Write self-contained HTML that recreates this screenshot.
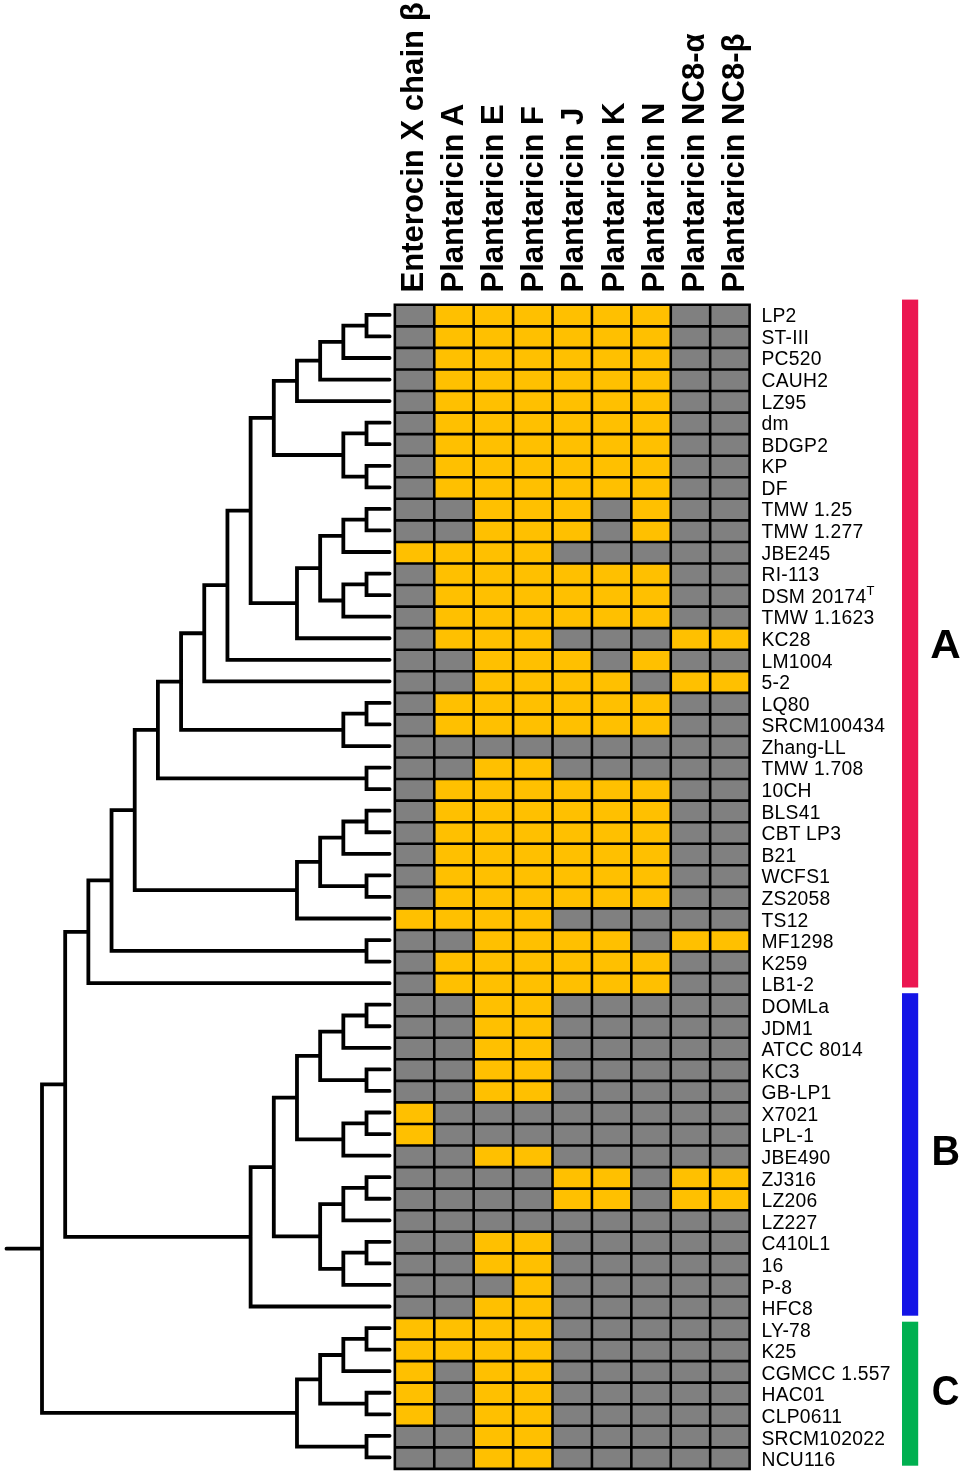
<!DOCTYPE html><html><head><meta charset="utf-8"><style>html,body{margin:0;padding:0;background:#fff;}svg{display:block;will-change:transform;}text{font-family:"Liberation Sans",sans-serif;}</style></head><body><svg width="962" height="1474" viewBox="0 0 962 1474"><rect width="962" height="1474" fill="#fff"/><path d="M389.60 315.58H366.52V337.14H389.60M366.52 326.36H343.34V358.69H389.60M343.34 342.53H320.16V380.25H389.60M320.16 361.39H296.98V401.81H389.60M389.60 423.37H366.52V444.92H389.60M389.60 466.48H366.52V488.04H389.60M366.52 434.14H343.34V477.26H366.52M296.98 381.60H273.80V455.70H343.34M389.60 509.60H366.52V531.15H389.60M366.52 520.37H343.34V552.71H389.60M389.60 574.27H366.52V595.83H389.60M366.52 585.05H343.34V617.38H389.60M343.34 536.54H320.16V601.21H343.34M320.16 568.88H296.98V638.94H389.60M273.80 418.65H250.62V603.91H296.98M250.62 511.28H227.44V660.50H389.60M227.44 585.89H204.26V682.05H389.60M389.60 703.61H366.52V725.17H389.60M366.52 714.39H343.34V746.73H389.60M204.26 633.97H181.08V730.56H343.34M389.60 768.28H366.52V789.84H389.60M181.08 682.27H157.90V779.06H366.52M389.60 811.40H366.52V832.96H389.60M366.52 822.18H343.34V854.51H389.60M389.60 876.07H366.52V897.63H389.60M343.34 838.35H320.16V886.85H366.52M320.16 862.60H296.98V919.19H389.60M157.90 730.66H134.72V890.89H296.98M389.60 940.74H366.52V962.30H389.60M134.72 810.78H111.54V951.52H366.52M111.54 881.15H88.36V983.86H389.60M389.60 1005.42H366.52V1026.97H389.60M366.52 1016.19H343.34V1048.53H389.60M389.60 1070.09H366.52V1091.65H389.60M343.34 1032.36H320.16V1080.87H366.52M389.60 1113.20H366.52V1134.76H389.60M366.52 1123.98H343.34V1156.32H389.60M320.16 1056.61H296.98V1140.15H343.34M389.60 1177.88H366.52V1199.43H389.60M366.52 1188.65H343.34V1220.99H389.60M389.60 1242.55H366.52V1264.10H389.60M366.52 1253.33H343.34V1285.66H389.60M343.34 1204.82H320.16V1269.49H343.34M296.98 1098.38H273.80V1237.16H320.16M273.80 1167.77H250.62V1307.22H389.60M88.36 932.50H65.18V1237.49H250.62M389.60 1328.78H366.52V1350.33H389.60M366.52 1339.56H343.34V1371.89H389.60M389.60 1393.45H366.52V1415.01H389.60M343.34 1355.72H320.16V1404.23H366.52M389.60 1436.56H366.52V1458.12H389.60M320.16 1379.98H296.98V1447.34H366.52M65.18 1085.00H42.00V1413.66H296.98M6.50 1249.33H42.00" fill="none" stroke="#000" stroke-width="3.8" stroke-linejoin="miter" stroke-linecap="round" transform="translate(0,-0.7)"/><rect x="394.85" y="304.80" width="39.47" height="21.61" fill="#808080"/><rect x="434.27" y="304.80" width="39.47" height="21.61" fill="#FFC000"/><rect x="473.68" y="304.80" width="39.47" height="21.61" fill="#FFC000"/><rect x="513.10" y="304.80" width="39.47" height="21.61" fill="#FFC000"/><rect x="552.52" y="304.80" width="39.47" height="21.61" fill="#FFC000"/><rect x="591.93" y="304.80" width="39.47" height="21.61" fill="#FFC000"/><rect x="631.35" y="304.80" width="39.47" height="21.61" fill="#FFC000"/><rect x="670.77" y="304.80" width="39.47" height="21.61" fill="#808080"/><rect x="710.18" y="304.80" width="39.47" height="21.61" fill="#808080"/><rect x="394.85" y="326.36" width="39.47" height="21.61" fill="#808080"/><rect x="434.27" y="326.36" width="39.47" height="21.61" fill="#FFC000"/><rect x="473.68" y="326.36" width="39.47" height="21.61" fill="#FFC000"/><rect x="513.10" y="326.36" width="39.47" height="21.61" fill="#FFC000"/><rect x="552.52" y="326.36" width="39.47" height="21.61" fill="#FFC000"/><rect x="591.93" y="326.36" width="39.47" height="21.61" fill="#FFC000"/><rect x="631.35" y="326.36" width="39.47" height="21.61" fill="#FFC000"/><rect x="670.77" y="326.36" width="39.47" height="21.61" fill="#808080"/><rect x="710.18" y="326.36" width="39.47" height="21.61" fill="#808080"/><rect x="394.85" y="347.91" width="39.47" height="21.61" fill="#808080"/><rect x="434.27" y="347.91" width="39.47" height="21.61" fill="#FFC000"/><rect x="473.68" y="347.91" width="39.47" height="21.61" fill="#FFC000"/><rect x="513.10" y="347.91" width="39.47" height="21.61" fill="#FFC000"/><rect x="552.52" y="347.91" width="39.47" height="21.61" fill="#FFC000"/><rect x="591.93" y="347.91" width="39.47" height="21.61" fill="#FFC000"/><rect x="631.35" y="347.91" width="39.47" height="21.61" fill="#FFC000"/><rect x="670.77" y="347.91" width="39.47" height="21.61" fill="#808080"/><rect x="710.18" y="347.91" width="39.47" height="21.61" fill="#808080"/><rect x="394.85" y="369.47" width="39.47" height="21.61" fill="#808080"/><rect x="434.27" y="369.47" width="39.47" height="21.61" fill="#FFC000"/><rect x="473.68" y="369.47" width="39.47" height="21.61" fill="#FFC000"/><rect x="513.10" y="369.47" width="39.47" height="21.61" fill="#FFC000"/><rect x="552.52" y="369.47" width="39.47" height="21.61" fill="#FFC000"/><rect x="591.93" y="369.47" width="39.47" height="21.61" fill="#FFC000"/><rect x="631.35" y="369.47" width="39.47" height="21.61" fill="#FFC000"/><rect x="670.77" y="369.47" width="39.47" height="21.61" fill="#808080"/><rect x="710.18" y="369.47" width="39.47" height="21.61" fill="#808080"/><rect x="394.85" y="391.03" width="39.47" height="21.61" fill="#808080"/><rect x="434.27" y="391.03" width="39.47" height="21.61" fill="#FFC000"/><rect x="473.68" y="391.03" width="39.47" height="21.61" fill="#FFC000"/><rect x="513.10" y="391.03" width="39.47" height="21.61" fill="#FFC000"/><rect x="552.52" y="391.03" width="39.47" height="21.61" fill="#FFC000"/><rect x="591.93" y="391.03" width="39.47" height="21.61" fill="#FFC000"/><rect x="631.35" y="391.03" width="39.47" height="21.61" fill="#FFC000"/><rect x="670.77" y="391.03" width="39.47" height="21.61" fill="#808080"/><rect x="710.18" y="391.03" width="39.47" height="21.61" fill="#808080"/><rect x="394.85" y="412.59" width="39.47" height="21.61" fill="#808080"/><rect x="434.27" y="412.59" width="39.47" height="21.61" fill="#FFC000"/><rect x="473.68" y="412.59" width="39.47" height="21.61" fill="#FFC000"/><rect x="513.10" y="412.59" width="39.47" height="21.61" fill="#FFC000"/><rect x="552.52" y="412.59" width="39.47" height="21.61" fill="#FFC000"/><rect x="591.93" y="412.59" width="39.47" height="21.61" fill="#FFC000"/><rect x="631.35" y="412.59" width="39.47" height="21.61" fill="#FFC000"/><rect x="670.77" y="412.59" width="39.47" height="21.61" fill="#808080"/><rect x="710.18" y="412.59" width="39.47" height="21.61" fill="#808080"/><rect x="394.85" y="434.14" width="39.47" height="21.61" fill="#808080"/><rect x="434.27" y="434.14" width="39.47" height="21.61" fill="#FFC000"/><rect x="473.68" y="434.14" width="39.47" height="21.61" fill="#FFC000"/><rect x="513.10" y="434.14" width="39.47" height="21.61" fill="#FFC000"/><rect x="552.52" y="434.14" width="39.47" height="21.61" fill="#FFC000"/><rect x="591.93" y="434.14" width="39.47" height="21.61" fill="#FFC000"/><rect x="631.35" y="434.14" width="39.47" height="21.61" fill="#FFC000"/><rect x="670.77" y="434.14" width="39.47" height="21.61" fill="#808080"/><rect x="710.18" y="434.14" width="39.47" height="21.61" fill="#808080"/><rect x="394.85" y="455.70" width="39.47" height="21.61" fill="#808080"/><rect x="434.27" y="455.70" width="39.47" height="21.61" fill="#FFC000"/><rect x="473.68" y="455.70" width="39.47" height="21.61" fill="#FFC000"/><rect x="513.10" y="455.70" width="39.47" height="21.61" fill="#FFC000"/><rect x="552.52" y="455.70" width="39.47" height="21.61" fill="#FFC000"/><rect x="591.93" y="455.70" width="39.47" height="21.61" fill="#FFC000"/><rect x="631.35" y="455.70" width="39.47" height="21.61" fill="#FFC000"/><rect x="670.77" y="455.70" width="39.47" height="21.61" fill="#808080"/><rect x="710.18" y="455.70" width="39.47" height="21.61" fill="#808080"/><rect x="394.85" y="477.26" width="39.47" height="21.61" fill="#808080"/><rect x="434.27" y="477.26" width="39.47" height="21.61" fill="#FFC000"/><rect x="473.68" y="477.26" width="39.47" height="21.61" fill="#FFC000"/><rect x="513.10" y="477.26" width="39.47" height="21.61" fill="#FFC000"/><rect x="552.52" y="477.26" width="39.47" height="21.61" fill="#FFC000"/><rect x="591.93" y="477.26" width="39.47" height="21.61" fill="#FFC000"/><rect x="631.35" y="477.26" width="39.47" height="21.61" fill="#FFC000"/><rect x="670.77" y="477.26" width="39.47" height="21.61" fill="#808080"/><rect x="710.18" y="477.26" width="39.47" height="21.61" fill="#808080"/><rect x="394.85" y="498.82" width="39.47" height="21.61" fill="#808080"/><rect x="434.27" y="498.82" width="39.47" height="21.61" fill="#808080"/><rect x="473.68" y="498.82" width="39.47" height="21.61" fill="#FFC000"/><rect x="513.10" y="498.82" width="39.47" height="21.61" fill="#FFC000"/><rect x="552.52" y="498.82" width="39.47" height="21.61" fill="#FFC000"/><rect x="591.93" y="498.82" width="39.47" height="21.61" fill="#808080"/><rect x="631.35" y="498.82" width="39.47" height="21.61" fill="#FFC000"/><rect x="670.77" y="498.82" width="39.47" height="21.61" fill="#808080"/><rect x="710.18" y="498.82" width="39.47" height="21.61" fill="#808080"/><rect x="394.85" y="520.37" width="39.47" height="21.61" fill="#808080"/><rect x="434.27" y="520.37" width="39.47" height="21.61" fill="#808080"/><rect x="473.68" y="520.37" width="39.47" height="21.61" fill="#FFC000"/><rect x="513.10" y="520.37" width="39.47" height="21.61" fill="#FFC000"/><rect x="552.52" y="520.37" width="39.47" height="21.61" fill="#FFC000"/><rect x="591.93" y="520.37" width="39.47" height="21.61" fill="#808080"/><rect x="631.35" y="520.37" width="39.47" height="21.61" fill="#FFC000"/><rect x="670.77" y="520.37" width="39.47" height="21.61" fill="#808080"/><rect x="710.18" y="520.37" width="39.47" height="21.61" fill="#808080"/><rect x="394.85" y="541.93" width="39.47" height="21.61" fill="#FFC000"/><rect x="434.27" y="541.93" width="39.47" height="21.61" fill="#FFC000"/><rect x="473.68" y="541.93" width="39.47" height="21.61" fill="#FFC000"/><rect x="513.10" y="541.93" width="39.47" height="21.61" fill="#FFC000"/><rect x="552.52" y="541.93" width="39.47" height="21.61" fill="#808080"/><rect x="591.93" y="541.93" width="39.47" height="21.61" fill="#808080"/><rect x="631.35" y="541.93" width="39.47" height="21.61" fill="#808080"/><rect x="670.77" y="541.93" width="39.47" height="21.61" fill="#808080"/><rect x="710.18" y="541.93" width="39.47" height="21.61" fill="#808080"/><rect x="394.85" y="563.49" width="39.47" height="21.61" fill="#808080"/><rect x="434.27" y="563.49" width="39.47" height="21.61" fill="#FFC000"/><rect x="473.68" y="563.49" width="39.47" height="21.61" fill="#FFC000"/><rect x="513.10" y="563.49" width="39.47" height="21.61" fill="#FFC000"/><rect x="552.52" y="563.49" width="39.47" height="21.61" fill="#FFC000"/><rect x="591.93" y="563.49" width="39.47" height="21.61" fill="#FFC000"/><rect x="631.35" y="563.49" width="39.47" height="21.61" fill="#FFC000"/><rect x="670.77" y="563.49" width="39.47" height="21.61" fill="#808080"/><rect x="710.18" y="563.49" width="39.47" height="21.61" fill="#808080"/><rect x="394.85" y="585.05" width="39.47" height="21.61" fill="#808080"/><rect x="434.27" y="585.05" width="39.47" height="21.61" fill="#FFC000"/><rect x="473.68" y="585.05" width="39.47" height="21.61" fill="#FFC000"/><rect x="513.10" y="585.05" width="39.47" height="21.61" fill="#FFC000"/><rect x="552.52" y="585.05" width="39.47" height="21.61" fill="#FFC000"/><rect x="591.93" y="585.05" width="39.47" height="21.61" fill="#FFC000"/><rect x="631.35" y="585.05" width="39.47" height="21.61" fill="#FFC000"/><rect x="670.77" y="585.05" width="39.47" height="21.61" fill="#808080"/><rect x="710.18" y="585.05" width="39.47" height="21.61" fill="#808080"/><rect x="394.85" y="606.60" width="39.47" height="21.61" fill="#808080"/><rect x="434.27" y="606.60" width="39.47" height="21.61" fill="#FFC000"/><rect x="473.68" y="606.60" width="39.47" height="21.61" fill="#FFC000"/><rect x="513.10" y="606.60" width="39.47" height="21.61" fill="#FFC000"/><rect x="552.52" y="606.60" width="39.47" height="21.61" fill="#FFC000"/><rect x="591.93" y="606.60" width="39.47" height="21.61" fill="#FFC000"/><rect x="631.35" y="606.60" width="39.47" height="21.61" fill="#FFC000"/><rect x="670.77" y="606.60" width="39.47" height="21.61" fill="#808080"/><rect x="710.18" y="606.60" width="39.47" height="21.61" fill="#808080"/><rect x="394.85" y="628.16" width="39.47" height="21.61" fill="#808080"/><rect x="434.27" y="628.16" width="39.47" height="21.61" fill="#FFC000"/><rect x="473.68" y="628.16" width="39.47" height="21.61" fill="#FFC000"/><rect x="513.10" y="628.16" width="39.47" height="21.61" fill="#FFC000"/><rect x="552.52" y="628.16" width="39.47" height="21.61" fill="#808080"/><rect x="591.93" y="628.16" width="39.47" height="21.61" fill="#808080"/><rect x="631.35" y="628.16" width="39.47" height="21.61" fill="#808080"/><rect x="670.77" y="628.16" width="39.47" height="21.61" fill="#FFC000"/><rect x="710.18" y="628.16" width="39.47" height="21.61" fill="#FFC000"/><rect x="394.85" y="649.72" width="39.47" height="21.61" fill="#808080"/><rect x="434.27" y="649.72" width="39.47" height="21.61" fill="#808080"/><rect x="473.68" y="649.72" width="39.47" height="21.61" fill="#FFC000"/><rect x="513.10" y="649.72" width="39.47" height="21.61" fill="#FFC000"/><rect x="552.52" y="649.72" width="39.47" height="21.61" fill="#FFC000"/><rect x="591.93" y="649.72" width="39.47" height="21.61" fill="#808080"/><rect x="631.35" y="649.72" width="39.47" height="21.61" fill="#FFC000"/><rect x="670.77" y="649.72" width="39.47" height="21.61" fill="#808080"/><rect x="710.18" y="649.72" width="39.47" height="21.61" fill="#808080"/><rect x="394.85" y="671.28" width="39.47" height="21.61" fill="#808080"/><rect x="434.27" y="671.28" width="39.47" height="21.61" fill="#808080"/><rect x="473.68" y="671.28" width="39.47" height="21.61" fill="#FFC000"/><rect x="513.10" y="671.28" width="39.47" height="21.61" fill="#FFC000"/><rect x="552.52" y="671.28" width="39.47" height="21.61" fill="#FFC000"/><rect x="591.93" y="671.28" width="39.47" height="21.61" fill="#FFC000"/><rect x="631.35" y="671.28" width="39.47" height="21.61" fill="#808080"/><rect x="670.77" y="671.28" width="39.47" height="21.61" fill="#FFC000"/><rect x="710.18" y="671.28" width="39.47" height="21.61" fill="#FFC000"/><rect x="394.85" y="692.83" width="39.47" height="21.61" fill="#808080"/><rect x="434.27" y="692.83" width="39.47" height="21.61" fill="#FFC000"/><rect x="473.68" y="692.83" width="39.47" height="21.61" fill="#FFC000"/><rect x="513.10" y="692.83" width="39.47" height="21.61" fill="#FFC000"/><rect x="552.52" y="692.83" width="39.47" height="21.61" fill="#FFC000"/><rect x="591.93" y="692.83" width="39.47" height="21.61" fill="#FFC000"/><rect x="631.35" y="692.83" width="39.47" height="21.61" fill="#FFC000"/><rect x="670.77" y="692.83" width="39.47" height="21.61" fill="#808080"/><rect x="710.18" y="692.83" width="39.47" height="21.61" fill="#808080"/><rect x="394.85" y="714.39" width="39.47" height="21.61" fill="#808080"/><rect x="434.27" y="714.39" width="39.47" height="21.61" fill="#FFC000"/><rect x="473.68" y="714.39" width="39.47" height="21.61" fill="#FFC000"/><rect x="513.10" y="714.39" width="39.47" height="21.61" fill="#FFC000"/><rect x="552.52" y="714.39" width="39.47" height="21.61" fill="#FFC000"/><rect x="591.93" y="714.39" width="39.47" height="21.61" fill="#FFC000"/><rect x="631.35" y="714.39" width="39.47" height="21.61" fill="#FFC000"/><rect x="670.77" y="714.39" width="39.47" height="21.61" fill="#808080"/><rect x="710.18" y="714.39" width="39.47" height="21.61" fill="#808080"/><rect x="394.85" y="735.95" width="39.47" height="21.61" fill="#808080"/><rect x="434.27" y="735.95" width="39.47" height="21.61" fill="#808080"/><rect x="473.68" y="735.95" width="39.47" height="21.61" fill="#808080"/><rect x="513.10" y="735.95" width="39.47" height="21.61" fill="#808080"/><rect x="552.52" y="735.95" width="39.47" height="21.61" fill="#808080"/><rect x="591.93" y="735.95" width="39.47" height="21.61" fill="#808080"/><rect x="631.35" y="735.95" width="39.47" height="21.61" fill="#808080"/><rect x="670.77" y="735.95" width="39.47" height="21.61" fill="#808080"/><rect x="710.18" y="735.95" width="39.47" height="21.61" fill="#808080"/><rect x="394.85" y="757.51" width="39.47" height="21.61" fill="#808080"/><rect x="434.27" y="757.51" width="39.47" height="21.61" fill="#808080"/><rect x="473.68" y="757.51" width="39.47" height="21.61" fill="#FFC000"/><rect x="513.10" y="757.51" width="39.47" height="21.61" fill="#FFC000"/><rect x="552.52" y="757.51" width="39.47" height="21.61" fill="#808080"/><rect x="591.93" y="757.51" width="39.47" height="21.61" fill="#808080"/><rect x="631.35" y="757.51" width="39.47" height="21.61" fill="#808080"/><rect x="670.77" y="757.51" width="39.47" height="21.61" fill="#808080"/><rect x="710.18" y="757.51" width="39.47" height="21.61" fill="#808080"/><rect x="394.85" y="779.06" width="39.47" height="21.61" fill="#808080"/><rect x="434.27" y="779.06" width="39.47" height="21.61" fill="#FFC000"/><rect x="473.68" y="779.06" width="39.47" height="21.61" fill="#FFC000"/><rect x="513.10" y="779.06" width="39.47" height="21.61" fill="#FFC000"/><rect x="552.52" y="779.06" width="39.47" height="21.61" fill="#FFC000"/><rect x="591.93" y="779.06" width="39.47" height="21.61" fill="#FFC000"/><rect x="631.35" y="779.06" width="39.47" height="21.61" fill="#FFC000"/><rect x="670.77" y="779.06" width="39.47" height="21.61" fill="#808080"/><rect x="710.18" y="779.06" width="39.47" height="21.61" fill="#808080"/><rect x="394.85" y="800.62" width="39.47" height="21.61" fill="#808080"/><rect x="434.27" y="800.62" width="39.47" height="21.61" fill="#FFC000"/><rect x="473.68" y="800.62" width="39.47" height="21.61" fill="#FFC000"/><rect x="513.10" y="800.62" width="39.47" height="21.61" fill="#FFC000"/><rect x="552.52" y="800.62" width="39.47" height="21.61" fill="#FFC000"/><rect x="591.93" y="800.62" width="39.47" height="21.61" fill="#FFC000"/><rect x="631.35" y="800.62" width="39.47" height="21.61" fill="#FFC000"/><rect x="670.77" y="800.62" width="39.47" height="21.61" fill="#808080"/><rect x="710.18" y="800.62" width="39.47" height="21.61" fill="#808080"/><rect x="394.85" y="822.18" width="39.47" height="21.61" fill="#808080"/><rect x="434.27" y="822.18" width="39.47" height="21.61" fill="#FFC000"/><rect x="473.68" y="822.18" width="39.47" height="21.61" fill="#FFC000"/><rect x="513.10" y="822.18" width="39.47" height="21.61" fill="#FFC000"/><rect x="552.52" y="822.18" width="39.47" height="21.61" fill="#FFC000"/><rect x="591.93" y="822.18" width="39.47" height="21.61" fill="#FFC000"/><rect x="631.35" y="822.18" width="39.47" height="21.61" fill="#FFC000"/><rect x="670.77" y="822.18" width="39.47" height="21.61" fill="#808080"/><rect x="710.18" y="822.18" width="39.47" height="21.61" fill="#808080"/><rect x="394.85" y="843.74" width="39.47" height="21.61" fill="#808080"/><rect x="434.27" y="843.74" width="39.47" height="21.61" fill="#FFC000"/><rect x="473.68" y="843.74" width="39.47" height="21.61" fill="#FFC000"/><rect x="513.10" y="843.74" width="39.47" height="21.61" fill="#FFC000"/><rect x="552.52" y="843.74" width="39.47" height="21.61" fill="#FFC000"/><rect x="591.93" y="843.74" width="39.47" height="21.61" fill="#FFC000"/><rect x="631.35" y="843.74" width="39.47" height="21.61" fill="#FFC000"/><rect x="670.77" y="843.74" width="39.47" height="21.61" fill="#808080"/><rect x="710.18" y="843.74" width="39.47" height="21.61" fill="#808080"/><rect x="394.85" y="865.29" width="39.47" height="21.61" fill="#808080"/><rect x="434.27" y="865.29" width="39.47" height="21.61" fill="#FFC000"/><rect x="473.68" y="865.29" width="39.47" height="21.61" fill="#FFC000"/><rect x="513.10" y="865.29" width="39.47" height="21.61" fill="#FFC000"/><rect x="552.52" y="865.29" width="39.47" height="21.61" fill="#FFC000"/><rect x="591.93" y="865.29" width="39.47" height="21.61" fill="#FFC000"/><rect x="631.35" y="865.29" width="39.47" height="21.61" fill="#FFC000"/><rect x="670.77" y="865.29" width="39.47" height="21.61" fill="#808080"/><rect x="710.18" y="865.29" width="39.47" height="21.61" fill="#808080"/><rect x="394.85" y="886.85" width="39.47" height="21.61" fill="#808080"/><rect x="434.27" y="886.85" width="39.47" height="21.61" fill="#FFC000"/><rect x="473.68" y="886.85" width="39.47" height="21.61" fill="#FFC000"/><rect x="513.10" y="886.85" width="39.47" height="21.61" fill="#FFC000"/><rect x="552.52" y="886.85" width="39.47" height="21.61" fill="#FFC000"/><rect x="591.93" y="886.85" width="39.47" height="21.61" fill="#FFC000"/><rect x="631.35" y="886.85" width="39.47" height="21.61" fill="#FFC000"/><rect x="670.77" y="886.85" width="39.47" height="21.61" fill="#808080"/><rect x="710.18" y="886.85" width="39.47" height="21.61" fill="#808080"/><rect x="394.85" y="908.41" width="39.47" height="21.61" fill="#FFC000"/><rect x="434.27" y="908.41" width="39.47" height="21.61" fill="#FFC000"/><rect x="473.68" y="908.41" width="39.47" height="21.61" fill="#FFC000"/><rect x="513.10" y="908.41" width="39.47" height="21.61" fill="#FFC000"/><rect x="552.52" y="908.41" width="39.47" height="21.61" fill="#808080"/><rect x="591.93" y="908.41" width="39.47" height="21.61" fill="#808080"/><rect x="631.35" y="908.41" width="39.47" height="21.61" fill="#808080"/><rect x="670.77" y="908.41" width="39.47" height="21.61" fill="#808080"/><rect x="710.18" y="908.41" width="39.47" height="21.61" fill="#808080"/><rect x="394.85" y="929.96" width="39.47" height="21.61" fill="#808080"/><rect x="434.27" y="929.96" width="39.47" height="21.61" fill="#808080"/><rect x="473.68" y="929.96" width="39.47" height="21.61" fill="#FFC000"/><rect x="513.10" y="929.96" width="39.47" height="21.61" fill="#FFC000"/><rect x="552.52" y="929.96" width="39.47" height="21.61" fill="#FFC000"/><rect x="591.93" y="929.96" width="39.47" height="21.61" fill="#FFC000"/><rect x="631.35" y="929.96" width="39.47" height="21.61" fill="#808080"/><rect x="670.77" y="929.96" width="39.47" height="21.61" fill="#FFC000"/><rect x="710.18" y="929.96" width="39.47" height="21.61" fill="#FFC000"/><rect x="394.85" y="951.52" width="39.47" height="21.61" fill="#808080"/><rect x="434.27" y="951.52" width="39.47" height="21.61" fill="#FFC000"/><rect x="473.68" y="951.52" width="39.47" height="21.61" fill="#FFC000"/><rect x="513.10" y="951.52" width="39.47" height="21.61" fill="#FFC000"/><rect x="552.52" y="951.52" width="39.47" height="21.61" fill="#FFC000"/><rect x="591.93" y="951.52" width="39.47" height="21.61" fill="#FFC000"/><rect x="631.35" y="951.52" width="39.47" height="21.61" fill="#FFC000"/><rect x="670.77" y="951.52" width="39.47" height="21.61" fill="#808080"/><rect x="710.18" y="951.52" width="39.47" height="21.61" fill="#808080"/><rect x="394.85" y="973.08" width="39.47" height="21.61" fill="#808080"/><rect x="434.27" y="973.08" width="39.47" height="21.61" fill="#FFC000"/><rect x="473.68" y="973.08" width="39.47" height="21.61" fill="#FFC000"/><rect x="513.10" y="973.08" width="39.47" height="21.61" fill="#FFC000"/><rect x="552.52" y="973.08" width="39.47" height="21.61" fill="#FFC000"/><rect x="591.93" y="973.08" width="39.47" height="21.61" fill="#FFC000"/><rect x="631.35" y="973.08" width="39.47" height="21.61" fill="#FFC000"/><rect x="670.77" y="973.08" width="39.47" height="21.61" fill="#808080"/><rect x="710.18" y="973.08" width="39.47" height="21.61" fill="#808080"/><rect x="394.85" y="994.64" width="39.47" height="21.61" fill="#808080"/><rect x="434.27" y="994.64" width="39.47" height="21.61" fill="#808080"/><rect x="473.68" y="994.64" width="39.47" height="21.61" fill="#FFC000"/><rect x="513.10" y="994.64" width="39.47" height="21.61" fill="#FFC000"/><rect x="552.52" y="994.64" width="39.47" height="21.61" fill="#808080"/><rect x="591.93" y="994.64" width="39.47" height="21.61" fill="#808080"/><rect x="631.35" y="994.64" width="39.47" height="21.61" fill="#808080"/><rect x="670.77" y="994.64" width="39.47" height="21.61" fill="#808080"/><rect x="710.18" y="994.64" width="39.47" height="21.61" fill="#808080"/><rect x="394.85" y="1016.19" width="39.47" height="21.61" fill="#808080"/><rect x="434.27" y="1016.19" width="39.47" height="21.61" fill="#808080"/><rect x="473.68" y="1016.19" width="39.47" height="21.61" fill="#FFC000"/><rect x="513.10" y="1016.19" width="39.47" height="21.61" fill="#FFC000"/><rect x="552.52" y="1016.19" width="39.47" height="21.61" fill="#808080"/><rect x="591.93" y="1016.19" width="39.47" height="21.61" fill="#808080"/><rect x="631.35" y="1016.19" width="39.47" height="21.61" fill="#808080"/><rect x="670.77" y="1016.19" width="39.47" height="21.61" fill="#808080"/><rect x="710.18" y="1016.19" width="39.47" height="21.61" fill="#808080"/><rect x="394.85" y="1037.75" width="39.47" height="21.61" fill="#808080"/><rect x="434.27" y="1037.75" width="39.47" height="21.61" fill="#808080"/><rect x="473.68" y="1037.75" width="39.47" height="21.61" fill="#FFC000"/><rect x="513.10" y="1037.75" width="39.47" height="21.61" fill="#FFC000"/><rect x="552.52" y="1037.75" width="39.47" height="21.61" fill="#808080"/><rect x="591.93" y="1037.75" width="39.47" height="21.61" fill="#808080"/><rect x="631.35" y="1037.75" width="39.47" height="21.61" fill="#808080"/><rect x="670.77" y="1037.75" width="39.47" height="21.61" fill="#808080"/><rect x="710.18" y="1037.75" width="39.47" height="21.61" fill="#808080"/><rect x="394.85" y="1059.31" width="39.47" height="21.61" fill="#808080"/><rect x="434.27" y="1059.31" width="39.47" height="21.61" fill="#808080"/><rect x="473.68" y="1059.31" width="39.47" height="21.61" fill="#FFC000"/><rect x="513.10" y="1059.31" width="39.47" height="21.61" fill="#FFC000"/><rect x="552.52" y="1059.31" width="39.47" height="21.61" fill="#808080"/><rect x="591.93" y="1059.31" width="39.47" height="21.61" fill="#808080"/><rect x="631.35" y="1059.31" width="39.47" height="21.61" fill="#808080"/><rect x="670.77" y="1059.31" width="39.47" height="21.61" fill="#808080"/><rect x="710.18" y="1059.31" width="39.47" height="21.61" fill="#808080"/><rect x="394.85" y="1080.87" width="39.47" height="21.61" fill="#808080"/><rect x="434.27" y="1080.87" width="39.47" height="21.61" fill="#808080"/><rect x="473.68" y="1080.87" width="39.47" height="21.61" fill="#FFC000"/><rect x="513.10" y="1080.87" width="39.47" height="21.61" fill="#FFC000"/><rect x="552.52" y="1080.87" width="39.47" height="21.61" fill="#808080"/><rect x="591.93" y="1080.87" width="39.47" height="21.61" fill="#808080"/><rect x="631.35" y="1080.87" width="39.47" height="21.61" fill="#808080"/><rect x="670.77" y="1080.87" width="39.47" height="21.61" fill="#808080"/><rect x="710.18" y="1080.87" width="39.47" height="21.61" fill="#808080"/><rect x="394.85" y="1102.42" width="39.47" height="21.61" fill="#FFC000"/><rect x="434.27" y="1102.42" width="39.47" height="21.61" fill="#808080"/><rect x="473.68" y="1102.42" width="39.47" height="21.61" fill="#808080"/><rect x="513.10" y="1102.42" width="39.47" height="21.61" fill="#808080"/><rect x="552.52" y="1102.42" width="39.47" height="21.61" fill="#808080"/><rect x="591.93" y="1102.42" width="39.47" height="21.61" fill="#808080"/><rect x="631.35" y="1102.42" width="39.47" height="21.61" fill="#808080"/><rect x="670.77" y="1102.42" width="39.47" height="21.61" fill="#808080"/><rect x="710.18" y="1102.42" width="39.47" height="21.61" fill="#808080"/><rect x="394.85" y="1123.98" width="39.47" height="21.61" fill="#FFC000"/><rect x="434.27" y="1123.98" width="39.47" height="21.61" fill="#808080"/><rect x="473.68" y="1123.98" width="39.47" height="21.61" fill="#808080"/><rect x="513.10" y="1123.98" width="39.47" height="21.61" fill="#808080"/><rect x="552.52" y="1123.98" width="39.47" height="21.61" fill="#808080"/><rect x="591.93" y="1123.98" width="39.47" height="21.61" fill="#808080"/><rect x="631.35" y="1123.98" width="39.47" height="21.61" fill="#808080"/><rect x="670.77" y="1123.98" width="39.47" height="21.61" fill="#808080"/><rect x="710.18" y="1123.98" width="39.47" height="21.61" fill="#808080"/><rect x="394.85" y="1145.54" width="39.47" height="21.61" fill="#808080"/><rect x="434.27" y="1145.54" width="39.47" height="21.61" fill="#808080"/><rect x="473.68" y="1145.54" width="39.47" height="21.61" fill="#FFC000"/><rect x="513.10" y="1145.54" width="39.47" height="21.61" fill="#FFC000"/><rect x="552.52" y="1145.54" width="39.47" height="21.61" fill="#808080"/><rect x="591.93" y="1145.54" width="39.47" height="21.61" fill="#808080"/><rect x="631.35" y="1145.54" width="39.47" height="21.61" fill="#808080"/><rect x="670.77" y="1145.54" width="39.47" height="21.61" fill="#808080"/><rect x="710.18" y="1145.54" width="39.47" height="21.61" fill="#808080"/><rect x="394.85" y="1167.10" width="39.47" height="21.61" fill="#808080"/><rect x="434.27" y="1167.10" width="39.47" height="21.61" fill="#808080"/><rect x="473.68" y="1167.10" width="39.47" height="21.61" fill="#808080"/><rect x="513.10" y="1167.10" width="39.47" height="21.61" fill="#808080"/><rect x="552.52" y="1167.10" width="39.47" height="21.61" fill="#FFC000"/><rect x="591.93" y="1167.10" width="39.47" height="21.61" fill="#FFC000"/><rect x="631.35" y="1167.10" width="39.47" height="21.61" fill="#808080"/><rect x="670.77" y="1167.10" width="39.47" height="21.61" fill="#FFC000"/><rect x="710.18" y="1167.10" width="39.47" height="21.61" fill="#FFC000"/><rect x="394.85" y="1188.65" width="39.47" height="21.61" fill="#808080"/><rect x="434.27" y="1188.65" width="39.47" height="21.61" fill="#808080"/><rect x="473.68" y="1188.65" width="39.47" height="21.61" fill="#808080"/><rect x="513.10" y="1188.65" width="39.47" height="21.61" fill="#808080"/><rect x="552.52" y="1188.65" width="39.47" height="21.61" fill="#FFC000"/><rect x="591.93" y="1188.65" width="39.47" height="21.61" fill="#FFC000"/><rect x="631.35" y="1188.65" width="39.47" height="21.61" fill="#808080"/><rect x="670.77" y="1188.65" width="39.47" height="21.61" fill="#FFC000"/><rect x="710.18" y="1188.65" width="39.47" height="21.61" fill="#FFC000"/><rect x="394.85" y="1210.21" width="39.47" height="21.61" fill="#808080"/><rect x="434.27" y="1210.21" width="39.47" height="21.61" fill="#808080"/><rect x="473.68" y="1210.21" width="39.47" height="21.61" fill="#808080"/><rect x="513.10" y="1210.21" width="39.47" height="21.61" fill="#808080"/><rect x="552.52" y="1210.21" width="39.47" height="21.61" fill="#808080"/><rect x="591.93" y="1210.21" width="39.47" height="21.61" fill="#808080"/><rect x="631.35" y="1210.21" width="39.47" height="21.61" fill="#808080"/><rect x="670.77" y="1210.21" width="39.47" height="21.61" fill="#808080"/><rect x="710.18" y="1210.21" width="39.47" height="21.61" fill="#808080"/><rect x="394.85" y="1231.77" width="39.47" height="21.61" fill="#808080"/><rect x="434.27" y="1231.77" width="39.47" height="21.61" fill="#808080"/><rect x="473.68" y="1231.77" width="39.47" height="21.61" fill="#FFC000"/><rect x="513.10" y="1231.77" width="39.47" height="21.61" fill="#FFC000"/><rect x="552.52" y="1231.77" width="39.47" height="21.61" fill="#808080"/><rect x="591.93" y="1231.77" width="39.47" height="21.61" fill="#808080"/><rect x="631.35" y="1231.77" width="39.47" height="21.61" fill="#808080"/><rect x="670.77" y="1231.77" width="39.47" height="21.61" fill="#808080"/><rect x="710.18" y="1231.77" width="39.47" height="21.61" fill="#808080"/><rect x="394.85" y="1253.33" width="39.47" height="21.61" fill="#808080"/><rect x="434.27" y="1253.33" width="39.47" height="21.61" fill="#808080"/><rect x="473.68" y="1253.33" width="39.47" height="21.61" fill="#FFC000"/><rect x="513.10" y="1253.33" width="39.47" height="21.61" fill="#FFC000"/><rect x="552.52" y="1253.33" width="39.47" height="21.61" fill="#808080"/><rect x="591.93" y="1253.33" width="39.47" height="21.61" fill="#808080"/><rect x="631.35" y="1253.33" width="39.47" height="21.61" fill="#808080"/><rect x="670.77" y="1253.33" width="39.47" height="21.61" fill="#808080"/><rect x="710.18" y="1253.33" width="39.47" height="21.61" fill="#808080"/><rect x="394.85" y="1274.88" width="39.47" height="21.61" fill="#808080"/><rect x="434.27" y="1274.88" width="39.47" height="21.61" fill="#808080"/><rect x="473.68" y="1274.88" width="39.47" height="21.61" fill="#808080"/><rect x="513.10" y="1274.88" width="39.47" height="21.61" fill="#FFC000"/><rect x="552.52" y="1274.88" width="39.47" height="21.61" fill="#808080"/><rect x="591.93" y="1274.88" width="39.47" height="21.61" fill="#808080"/><rect x="631.35" y="1274.88" width="39.47" height="21.61" fill="#808080"/><rect x="670.77" y="1274.88" width="39.47" height="21.61" fill="#808080"/><rect x="710.18" y="1274.88" width="39.47" height="21.61" fill="#808080"/><rect x="394.85" y="1296.44" width="39.47" height="21.61" fill="#808080"/><rect x="434.27" y="1296.44" width="39.47" height="21.61" fill="#808080"/><rect x="473.68" y="1296.44" width="39.47" height="21.61" fill="#FFC000"/><rect x="513.10" y="1296.44" width="39.47" height="21.61" fill="#FFC000"/><rect x="552.52" y="1296.44" width="39.47" height="21.61" fill="#808080"/><rect x="591.93" y="1296.44" width="39.47" height="21.61" fill="#808080"/><rect x="631.35" y="1296.44" width="39.47" height="21.61" fill="#808080"/><rect x="670.77" y="1296.44" width="39.47" height="21.61" fill="#808080"/><rect x="710.18" y="1296.44" width="39.47" height="21.61" fill="#808080"/><rect x="394.85" y="1318.00" width="39.47" height="21.61" fill="#FFC000"/><rect x="434.27" y="1318.00" width="39.47" height="21.61" fill="#FFC000"/><rect x="473.68" y="1318.00" width="39.47" height="21.61" fill="#FFC000"/><rect x="513.10" y="1318.00" width="39.47" height="21.61" fill="#FFC000"/><rect x="552.52" y="1318.00" width="39.47" height="21.61" fill="#808080"/><rect x="591.93" y="1318.00" width="39.47" height="21.61" fill="#808080"/><rect x="631.35" y="1318.00" width="39.47" height="21.61" fill="#808080"/><rect x="670.77" y="1318.00" width="39.47" height="21.61" fill="#808080"/><rect x="710.18" y="1318.00" width="39.47" height="21.61" fill="#808080"/><rect x="394.85" y="1339.56" width="39.47" height="21.61" fill="#FFC000"/><rect x="434.27" y="1339.56" width="39.47" height="21.61" fill="#FFC000"/><rect x="473.68" y="1339.56" width="39.47" height="21.61" fill="#FFC000"/><rect x="513.10" y="1339.56" width="39.47" height="21.61" fill="#FFC000"/><rect x="552.52" y="1339.56" width="39.47" height="21.61" fill="#808080"/><rect x="591.93" y="1339.56" width="39.47" height="21.61" fill="#808080"/><rect x="631.35" y="1339.56" width="39.47" height="21.61" fill="#808080"/><rect x="670.77" y="1339.56" width="39.47" height="21.61" fill="#808080"/><rect x="710.18" y="1339.56" width="39.47" height="21.61" fill="#808080"/><rect x="394.85" y="1361.11" width="39.47" height="21.61" fill="#FFC000"/><rect x="434.27" y="1361.11" width="39.47" height="21.61" fill="#808080"/><rect x="473.68" y="1361.11" width="39.47" height="21.61" fill="#FFC000"/><rect x="513.10" y="1361.11" width="39.47" height="21.61" fill="#FFC000"/><rect x="552.52" y="1361.11" width="39.47" height="21.61" fill="#808080"/><rect x="591.93" y="1361.11" width="39.47" height="21.61" fill="#808080"/><rect x="631.35" y="1361.11" width="39.47" height="21.61" fill="#808080"/><rect x="670.77" y="1361.11" width="39.47" height="21.61" fill="#808080"/><rect x="710.18" y="1361.11" width="39.47" height="21.61" fill="#808080"/><rect x="394.85" y="1382.67" width="39.47" height="21.61" fill="#FFC000"/><rect x="434.27" y="1382.67" width="39.47" height="21.61" fill="#808080"/><rect x="473.68" y="1382.67" width="39.47" height="21.61" fill="#FFC000"/><rect x="513.10" y="1382.67" width="39.47" height="21.61" fill="#FFC000"/><rect x="552.52" y="1382.67" width="39.47" height="21.61" fill="#808080"/><rect x="591.93" y="1382.67" width="39.47" height="21.61" fill="#808080"/><rect x="631.35" y="1382.67" width="39.47" height="21.61" fill="#808080"/><rect x="670.77" y="1382.67" width="39.47" height="21.61" fill="#808080"/><rect x="710.18" y="1382.67" width="39.47" height="21.61" fill="#808080"/><rect x="394.85" y="1404.23" width="39.47" height="21.61" fill="#FFC000"/><rect x="434.27" y="1404.23" width="39.47" height="21.61" fill="#808080"/><rect x="473.68" y="1404.23" width="39.47" height="21.61" fill="#FFC000"/><rect x="513.10" y="1404.23" width="39.47" height="21.61" fill="#FFC000"/><rect x="552.52" y="1404.23" width="39.47" height="21.61" fill="#808080"/><rect x="591.93" y="1404.23" width="39.47" height="21.61" fill="#808080"/><rect x="631.35" y="1404.23" width="39.47" height="21.61" fill="#808080"/><rect x="670.77" y="1404.23" width="39.47" height="21.61" fill="#808080"/><rect x="710.18" y="1404.23" width="39.47" height="21.61" fill="#808080"/><rect x="394.85" y="1425.79" width="39.47" height="21.61" fill="#808080"/><rect x="434.27" y="1425.79" width="39.47" height="21.61" fill="#808080"/><rect x="473.68" y="1425.79" width="39.47" height="21.61" fill="#FFC000"/><rect x="513.10" y="1425.79" width="39.47" height="21.61" fill="#FFC000"/><rect x="552.52" y="1425.79" width="39.47" height="21.61" fill="#808080"/><rect x="591.93" y="1425.79" width="39.47" height="21.61" fill="#808080"/><rect x="631.35" y="1425.79" width="39.47" height="21.61" fill="#808080"/><rect x="670.77" y="1425.79" width="39.47" height="21.61" fill="#808080"/><rect x="710.18" y="1425.79" width="39.47" height="21.61" fill="#808080"/><rect x="394.85" y="1447.34" width="39.47" height="21.61" fill="#808080"/><rect x="434.27" y="1447.34" width="39.47" height="21.61" fill="#808080"/><rect x="473.68" y="1447.34" width="39.47" height="21.61" fill="#FFC000"/><rect x="513.10" y="1447.34" width="39.47" height="21.61" fill="#FFC000"/><rect x="552.52" y="1447.34" width="39.47" height="21.61" fill="#808080"/><rect x="591.93" y="1447.34" width="39.47" height="21.61" fill="#808080"/><rect x="631.35" y="1447.34" width="39.47" height="21.61" fill="#808080"/><rect x="670.77" y="1447.34" width="39.47" height="21.61" fill="#808080"/><rect x="710.18" y="1447.34" width="39.47" height="21.61" fill="#808080"/><path d="M394.85 304.80V1468.90M434.27 304.80V1468.90M473.68 304.80V1468.90M513.10 304.80V1468.90M552.52 304.80V1468.90M591.93 304.80V1468.90M631.35 304.80V1468.90M670.77 304.80V1468.90M710.18 304.80V1468.90M749.60 304.80V1468.90M394.85 304.80H749.60M394.85 326.36H749.60M394.85 347.91H749.60M394.85 369.47H749.60M394.85 391.03H749.60M394.85 412.59H749.60M394.85 434.14H749.60M394.85 455.70H749.60M394.85 477.26H749.60M394.85 498.82H749.60M394.85 520.37H749.60M394.85 541.93H749.60M394.85 563.49H749.60M394.85 585.05H749.60M394.85 606.60H749.60M394.85 628.16H749.60M394.85 649.72H749.60M394.85 671.28H749.60M394.85 692.83H749.60M394.85 714.39H749.60M394.85 735.95H749.60M394.85 757.51H749.60M394.85 779.06H749.60M394.85 800.62H749.60M394.85 822.18H749.60M394.85 843.74H749.60M394.85 865.29H749.60M394.85 886.85H749.60M394.85 908.41H749.60M394.85 929.96H749.60M394.85 951.52H749.60M394.85 973.08H749.60M394.85 994.64H749.60M394.85 1016.19H749.60M394.85 1037.75H749.60M394.85 1059.31H749.60M394.85 1080.87H749.60M394.85 1102.42H749.60M394.85 1123.98H749.60M394.85 1145.54H749.60M394.85 1167.10H749.60M394.85 1188.65H749.60M394.85 1210.21H749.60M394.85 1231.77H749.60M394.85 1253.33H749.60M394.85 1274.88H749.60M394.85 1296.44H749.60M394.85 1318.00H749.60M394.85 1339.56H749.60M394.85 1361.11H749.60M394.85 1382.67H749.60M394.85 1404.23H749.60M394.85 1425.79H749.60M394.85 1447.34H749.60M394.85 1468.90H749.60" stroke="#000" stroke-width="2.6" stroke-linecap="square" fill="none"/><text x="761.5" y="322.20" font-size="19.3" letter-spacing="0.25">LP2</text><text x="761.5" y="343.78" font-size="19.3" letter-spacing="0.25">ST-III</text><text x="761.5" y="365.37" font-size="19.3" letter-spacing="0.25">PC520</text><text x="761.5" y="386.95" font-size="19.3" letter-spacing="0.25">CAUH2</text><text x="761.5" y="408.54" font-size="19.3" letter-spacing="0.25">LZ95</text><text x="761.5" y="430.12" font-size="19.3" letter-spacing="0.25">dm</text><text x="761.5" y="451.71" font-size="19.3" letter-spacing="0.25">BDGP2</text><text x="761.5" y="473.29" font-size="19.3" letter-spacing="0.25">KP</text><text x="761.5" y="494.88" font-size="19.3" letter-spacing="0.25">DF</text><text x="761.5" y="516.47" font-size="19.3" letter-spacing="0.25">TMW 1.25</text><text x="761.5" y="538.05" font-size="19.3" letter-spacing="0.25">TMW 1.277</text><text x="761.5" y="559.63" font-size="19.3" letter-spacing="0.25">JBE245</text><text x="761.5" y="581.22" font-size="19.3" letter-spacing="0.25">RI-113</text><text x="761.5" y="602.81" font-size="19.3" letter-spacing="0.25">DSM <tspan dx="0.8">20174</tspan><tspan font-size="13" dy="-7.5">T</tspan></text><text x="761.5" y="624.39" font-size="19.3" letter-spacing="0.25">TMW 1.1623</text><text x="761.5" y="645.98" font-size="19.3" letter-spacing="0.25">KC28</text><text x="761.5" y="667.56" font-size="19.3" letter-spacing="0.25">LM1004</text><text x="761.5" y="689.14" font-size="19.3" letter-spacing="0.25">5-2</text><text x="761.5" y="710.73" font-size="19.3" letter-spacing="0.25">LQ80</text><text x="761.5" y="732.32" font-size="19.3" letter-spacing="0.25">SRCM100434</text><text x="761.5" y="753.90" font-size="19.3" letter-spacing="0.25">Zhang-LL</text><text x="761.5" y="775.49" font-size="19.3" letter-spacing="0.25">TMW 1.708</text><text x="761.5" y="797.07" font-size="19.3" letter-spacing="0.25">10CH</text><text x="761.5" y="818.65" font-size="19.3" letter-spacing="0.25">BLS41</text><text x="761.5" y="840.24" font-size="19.3" letter-spacing="0.25">CBT LP3</text><text x="761.5" y="861.83" font-size="19.3" letter-spacing="0.25">B21</text><text x="761.5" y="883.41" font-size="19.3" letter-spacing="0.25">WCFS1</text><text x="761.5" y="905.00" font-size="19.3" letter-spacing="0.25">ZS2058</text><text x="761.5" y="926.58" font-size="19.3" letter-spacing="0.25">TS12</text><text x="761.5" y="948.16" font-size="19.3" letter-spacing="0.25">MF1298</text><text x="761.5" y="969.75" font-size="19.3" letter-spacing="0.25">K259</text><text x="761.5" y="991.34" font-size="19.3" letter-spacing="0.25">LB1-2</text><text x="761.5" y="1012.92" font-size="19.3" letter-spacing="0.25">DOMLa</text><text x="761.5" y="1034.51" font-size="19.3" letter-spacing="0.25">JDM1</text><text x="761.5" y="1056.09" font-size="19.3" letter-spacing="0.25">ATCC 8014</text><text x="761.5" y="1077.67" font-size="19.3" letter-spacing="0.25">KC3</text><text x="761.5" y="1099.26" font-size="19.3" letter-spacing="0.25">GB-LP1</text><text x="761.5" y="1120.85" font-size="19.3" letter-spacing="0.25">X7021</text><text x="761.5" y="1142.43" font-size="19.3" letter-spacing="0.25">LPL-1</text><text x="761.5" y="1164.02" font-size="19.3" letter-spacing="0.25">JBE490</text><text x="761.5" y="1185.60" font-size="19.3" letter-spacing="0.25">ZJ316</text><text x="761.5" y="1207.18" font-size="19.3" letter-spacing="0.25">LZ206</text><text x="761.5" y="1228.77" font-size="19.3" letter-spacing="0.25">LZ227</text><text x="761.5" y="1250.36" font-size="19.3" letter-spacing="0.25">C410L1</text><text x="761.5" y="1271.94" font-size="19.3" letter-spacing="0.25">16</text><text x="761.5" y="1293.53" font-size="19.3" letter-spacing="0.25">P-8</text><text x="761.5" y="1315.11" font-size="19.3" letter-spacing="0.25">HFC8</text><text x="761.5" y="1336.69" font-size="19.3" letter-spacing="0.25">LY-78</text><text x="761.5" y="1358.28" font-size="19.3" letter-spacing="0.25">K25</text><text x="761.5" y="1379.87" font-size="19.3" letter-spacing="0.25">CGMCC 1.557</text><text x="761.5" y="1401.45" font-size="19.3" letter-spacing="0.25">HAC01</text><text x="761.5" y="1423.04" font-size="19.3" letter-spacing="0.25">CLP0611</text><text x="761.5" y="1444.62" font-size="19.3" letter-spacing="0.25">SRCM102022</text><text x="761.5" y="1466.21" font-size="19.3" letter-spacing="0.25">NCU116</text><text transform="translate(422.70,292.60) rotate(-90)" font-size="31.1" font-weight="bold">Enterocin X chain β</text><text transform="translate(462.87,292.60) rotate(-90)" font-size="31.1" font-weight="bold">Plantaricin A</text><text transform="translate(503.04,292.60) rotate(-90)" font-size="31.1" font-weight="bold">Plantaricin E</text><text transform="translate(543.21,292.60) rotate(-90)" font-size="31.1" font-weight="bold">Plantaricin F</text><text transform="translate(583.38,292.60) rotate(-90)" font-size="31.1" font-weight="bold">Plantaricin J</text><text transform="translate(623.55,292.60) rotate(-90)" font-size="31.1" font-weight="bold">Plantaricin K</text><text transform="translate(663.72,292.60) rotate(-90)" font-size="31.1" font-weight="bold">Plantaricin N</text><text transform="translate(703.89,292.60) rotate(-90)" font-size="31.1" font-weight="bold">Plantaricin NC8-α</text><text transform="translate(744.06,292.60) rotate(-90)" font-size="31.1" font-weight="bold">Plantaricin NC8-β</text><rect x="902" y="299.6" width="16.2" height="687.9" fill="#EB1650"/><rect x="902" y="993.2" width="16.2" height="322.5" fill="#1414E6"/><rect x="902" y="1321.7" width="16.2" height="144" fill="#00B050"/><text transform="translate(930.2,658.3) scale(1.07,1.04)" font-size="39.5" font-weight="bold">A</text><text transform="translate(931.45,1164.9) scale(1.0,1.06)" font-size="39.5" font-weight="bold">B</text><text transform="translate(931.75,1404.6) scale(0.97,1.09)" font-size="39.5" font-weight="bold">C</text></svg></body></html>
